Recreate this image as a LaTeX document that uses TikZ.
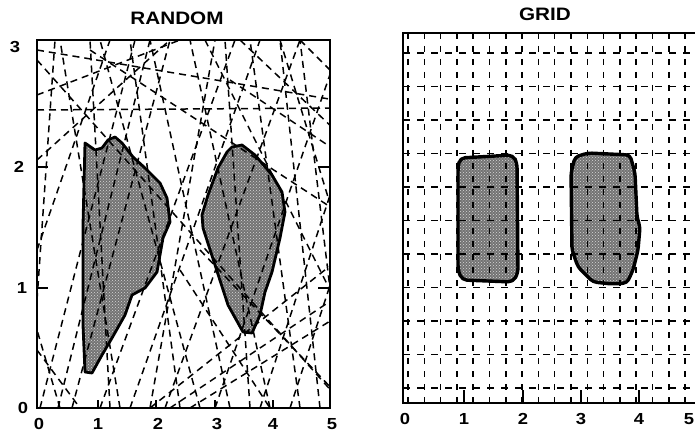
\documentclass[tikz,border=0pt]{standalone}
\usepackage{fontspec}
\newfontfamily\labfont{Liberation Sans}[FakeStretch=1.15]
\usetikzlibrary{patterns}
\begin{document}
\begin{tikzpicture}[x=1pt,y=-1pt,
  frame/.style={line width=1.9pt},
  tickmark/.style={line width=1.6pt},
  randline/.style={line width=1.5pt, dash pattern=on 7pt off 5pt},
  gridh/.style={line width=1.5pt, dash pattern=on 7pt off 7pt},
  gridv/.style={line width=1.5pt, dash pattern=on 6pt off 7pt},
  blob/.style={fill=black!55},
  blobtex/.style={pattern=crosshatch dots, pattern color=white!85!black},
  blobedge/.style={line width=2.8pt, line join=round},
  lbl/.style={font=\labfont\bfseries\fontsize{16}{16}\selectfont, inner sep=0pt},
  ttl/.style={font=\labfont\bfseries\fontsize{18}{18}\selectfont, inner sep=0pt}]
\useasboundingbox (0,0) rectangle (695,435);
\fill[white] (0,0) rectangle (695,435);

% ---------------- RANDOM ----------------
\node[ttl] (t1) at (177,18) {RANDOM};
\def\blobL{(85,143) -- (95,150) -- (102,148) -- (108,140) -- (115,137) -- (122,143) -- (133,157) -- (145,168) -- (160,183) -- (167,198) -- (170,222) -- (163,238) -- (160,255) -- (157,272) -- (145,288) -- (132,295) -- (125,315) -- (112,338) -- (102,355) -- (92,373) -- (85,372) -- (83,325) -- (83,225) -- cycle}
\def\blobR{(232,147) -- (242,145) -- (255,155) -- (272,175) -- (282,192) -- (285,212) -- (280,238) -- (272,272) -- (265,292) -- (260,315) -- (252,333) -- (243,332) -- (228,305) -- (215,265) -- (203,228) -- (202,215) -- (208,195) -- (218,168) -- (227,152) -- cycle}
\fill[blob] \blobL; \fill[blobtex] \blobL;
\fill[blob] \blobR; \fill[blobtex] \blobR;
\begin{scope}
\clip (37,40) rectangle (330,408);
\foreach \xa/\ya/\xb/\yb in {
  40/408/135/40, 58/408/150/40, 72/408/170/40, 100/408/235/40, 130/408/260/40,
  150/408/215/40, 165/408/300/40, 215/408/335/60, 260/408/335/180, 290/408/335/270,
  37/300/55/40, 120/408/60/40, 200/408/100/40, 230/408/150/40, 270/408/190/40,
  300/408/250/40, 320/408/280/40, 335/330/300/40, 180/408/130/40, 250/408/225/40,
  37/50/335/100, 37/110/335/108, 90/50/335/210, 37/60/335/395, 170/408/335/298,
  190/408/335/318, 150/408/335/262, 180/270/270/408, 200/250/335/392, 230/80/335/150,
  37/95/180/40, 37/160/170/40, 240/40/335/130, 300/40/335/75, 37/350/80/408,
  37/250/110/40, 60/408/37/330, 110/408/90/40, 280/40/335/220, 205/40/335/300}
  {\draw[randline] (\xa,\ya) -- (\xb,\yb);}
\end{scope}
\draw[blobedge] \blobL;
\draw[blobedge] \blobR;
\draw[frame] (37,40) rectangle (330,408);
\foreach \xx in {98,156,215,273} {\draw[tickmark] (\xx,408) -- (\xx,400);}
\foreach \yy in {167,288} {\draw[tickmark] (37,\yy) -- (48,\yy); \draw[tickmark] (330,\yy) -- (318,\yy);}
\node[lbl] (ly3) at (15,47) {3};
\node[lbl] (ly2) at (19,167) {2};
\node[lbl] (ly1) at (22,288) {1};
\node[lbl] (ly0) at (23,408) {0};
\node[lbl] (lx0) at (39,424) {0};
\node[lbl] (lx1) at (98,424) {1};
\node[lbl] (lx2) at (158,424) {2};
\node[lbl] (lx3) at (217,424) {3};
\node[lbl] (lx4) at (273,424) {4};
\node[lbl] (lx5) at (332,424) {5};

% ---------------- GRID ----------------
\node[ttl] (t2) at (545,14) {GRID};
\def\blobA{(460,158) -- (513,155) -- (517,163) -- (518,273) -- (513,282) -- (462,280) -- (458,270) -- (458,167) -- cycle}
\def\blobB{(575,157) -- (588,153) -- (630,155) -- (635,173) -- (637,217) -- (640,227) -- (638,250) -- (633,270) -- (627,283) -- (612,284) -- (593,282) -- (578,267) -- (572,250) -- (571,173) -- cycle}
\fill[blob, rounded corners=5pt] \blobA; \fill[blobtex, rounded corners=5pt] \blobA;
\fill[blob, rounded corners=4pt] \blobB; \fill[blobtex, rounded corners=4pt] \blobB;
\begin{scope}
\clip (403,33) rectangle (698,403);
\foreach \k in {0,...,10} {\draw[gridh] (403,53+33.5*\k) -- (698,53+33.5*\k);}
\foreach \k in {0,...,17} {\draw[gridv] (408+16.3*\k,33) -- (408+16.3*\k,403);}
\end{scope}
\draw[blobedge, line width=3.4pt, rounded corners=5pt] \blobA;
\draw[blobedge, line width=3.4pt, rounded corners=4pt] \blobB;
\draw[frame] (403,33) rectangle (698,403);
\foreach \xx in {464,523,581,639} {\draw[tickmark] (\xx,403) -- (\xx,390);}
\node[lbl] (rx0) at (405,419) {0};
\node[lbl] (rx1) at (464,419) {1};
\node[lbl] (rx2) at (523,419) {2};
\node[lbl] (rx3) at (581,419) {3};
\node[lbl] (rx4) at (639,419) {4};
\node[lbl] (rx5) at (689,419) {5};
\end{tikzpicture}
\end{document}
